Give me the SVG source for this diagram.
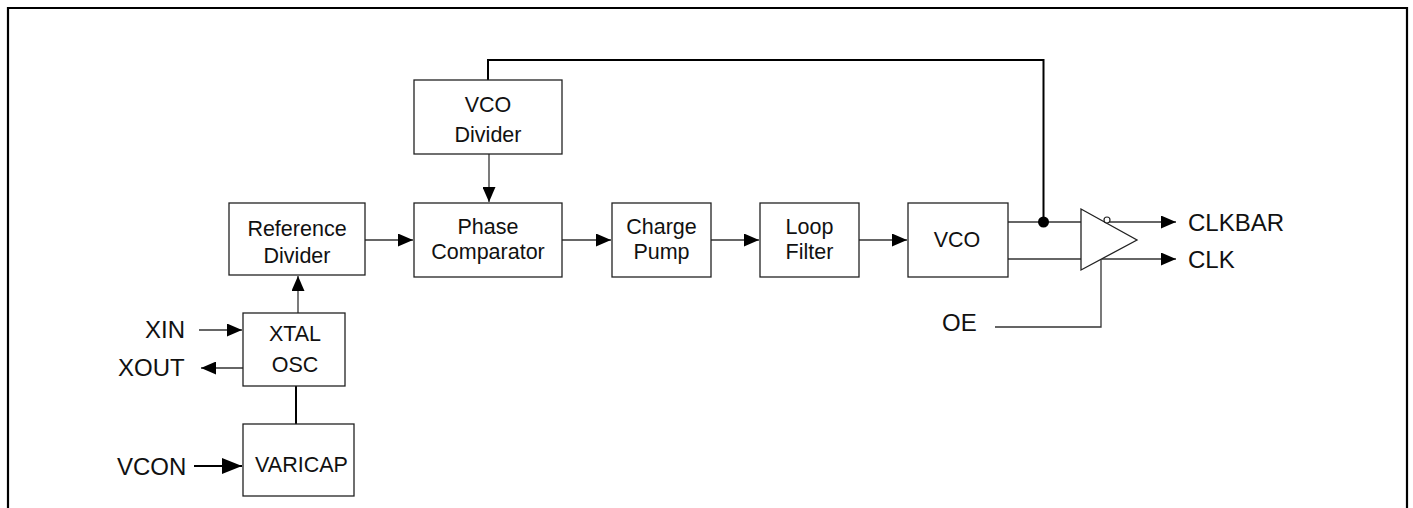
<svg xmlns="http://www.w3.org/2000/svg" width="1413" height="508" viewBox="0 0 1413 508">
<style>
.box{fill:#fff;stroke:#222;stroke-width:1.3}
.ln{fill:none;stroke:#333;stroke-width:1.3}
.thk{fill:none;stroke:#000;stroke-width:2}
.t{font-family:"Liberation Sans",Arial,sans-serif;font-size:21.5px;fill:#111;text-anchor:middle}
.lbl{font-family:"Liberation Sans",Arial,sans-serif;font-size:24px;fill:#111}
</style>
<defs>
<marker id="ah" markerUnits="userSpaceOnUse" markerWidth="15" markerHeight="13" refX="15" refY="6.5" orient="auto">
<path d="M0,0 L15,6.5 L0,13 z" fill="#000"/>
</marker>
<marker id="ahb" markerUnits="userSpaceOnUse" markerWidth="20" markerHeight="16" refX="20" refY="8" orient="auto">
<path d="M0,0 L20,8 L0,16 z" fill="#000"/>
</marker>
</defs>
<rect width="1413" height="508" fill="#fff"/>
<path d="M8,508 V8 H1407 V508" fill="none" stroke="#000" stroke-width="2.2"/>

<g id="connectors">
<path class="thk" d="M488,80 V60 H1043.5 V222"/>
<path class="ln" d="M298,313 V276" marker-end="url(#ah)"/>
<path class="thk" d="M296,386 V424"/>
<path class="ln" d="M489,154 V202" marker-end="url(#ah)"/>
<path class="ln" d="M365,240 H413" marker-end="url(#ah)"/>
<path class="ln" d="M562,240 H611" marker-end="url(#ah)"/>
<path class="ln" d="M711,240 H759" marker-end="url(#ah)"/>
<path class="ln" d="M859,240 H907" marker-end="url(#ah)"/>
<path class="ln" d="M199,330 H242" marker-end="url(#ah)"/>
<path class="ln" d="M243,368 H201" marker-end="url(#ah)"/>
<path class="thk" d="M194,466 H242" marker-end="url(#ahb)"/>
<path class="ln" d="M1008,222 H1081"/>
<path class="ln" d="M1008,259 H1081"/>
<circle cx="1043.5" cy="222" r="5.5" fill="#000"/>
<path class="ln" d="M1110,222 H1176" marker-end="url(#ah)"/>
<path class="ln" d="M1102,259 H1176" marker-end="url(#ah)"/>
<path class="ln" d="M995,327 H1101 V259"/>
</g>

<g id="buffer">
<path class="box" d="M1081,209 L1137,240 L1081,270 z"/>
<circle cx="1107" cy="220" r="3" fill="#fff" stroke="#222" stroke-width="1.2"/>
</g>

<g id="vco-divider">
<rect class="box" x="414" y="80" width="148" height="74"/>
<text class="t" x="488" y="112">VCO</text>
<text class="t" x="488" y="141.5">Divider</text>
</g>
<g id="reference-divider">
<rect class="box" x="229" y="203" width="136" height="72"/>
<text class="t" x="297" y="235.5">Reference</text>
<text class="t" x="297" y="262.5">Divider</text>
</g>
<g id="phase-comparator">
<rect class="box" x="414" y="203" width="148" height="74"/>
<text class="t" x="488" y="234">Phase</text>
<text class="t" x="488" y="258.5">Comparator</text>
</g>
<g id="charge-pump">
<rect class="box" x="612" y="203" width="99" height="74"/>
<text class="t" x="661.5" y="234">Charge</text>
<text class="t" x="661.5" y="258.5">Pump</text>
</g>
<g id="loop-filter">
<rect class="box" x="760" y="203" width="99" height="74"/>
<text class="t" x="809.5" y="234">Loop</text>
<text class="t" x="809.5" y="258.5">Filter</text>
</g>
<g id="vco">
<rect class="box" x="908" y="203" width="100" height="74"/>
<text class="t" x="957" y="246.5">VCO</text>
</g>
<g id="xtal-osc">
<rect class="box" x="243" y="313" width="102" height="73"/>
<text class="t" x="295" y="341">XTAL</text>
<text class="t" x="295" y="371.5">OSC</text>
</g>
<g id="varicap">
<rect class="box" x="243" y="424" width="111" height="72"/>
<text class="t" x="301.5" y="471.5">VARICAP</text>
</g>

<g id="labels">
<text class="lbl" x="145" y="338">XIN</text>
<text class="lbl" x="118" y="376">XOUT</text>
<text class="lbl" x="117" y="475">VCON</text>
<text class="lbl" x="942" y="330.5">OE</text>
<text class="lbl" x="1188" y="230.5">CLKBAR</text>
<text class="lbl" x="1188" y="267.5">CLK</text>
</g>
</svg>
